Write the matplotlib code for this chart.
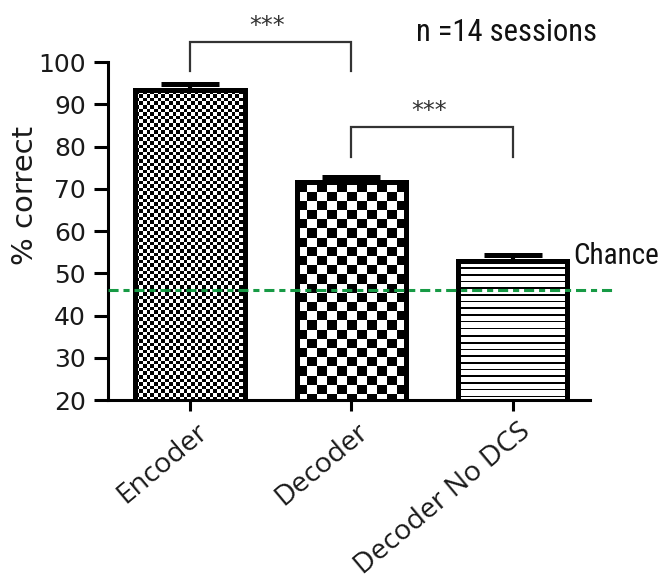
import numpy as np
import matplotlib
matplotlib.use("Agg")
import matplotlib.pyplot as plt
from matplotlib import font_manager

# ---- data ----
categories = ["Encoder", "Decoder", "Decoder No DCS"]
pct_correct = [93.3, 71.5, 52.9]
sem = [1.4, 1.2, 1.5]
chance_level = 46.0
yticks = [20, 30, 40, 50, 60, 70, 80, 90, 100]
comparisons = [(0, 1, "***"), (1, 2, "***")]
n_text = "n =14 sessions"
chance_text = "Chance"

# ---- style ----
installed = {f.name for f in font_manager.fontManager.ttflist}
narrow_pref = ["Liberation Sans Narrow", "Roboto Condensed", "DejaVu Sans Condensed",
               "Open Sans Condensed", "Roboto"]
NARROW = [f for f in narrow_pref if f in installed] + ["DejaVu Sans"]
LABEL_FONT = ["Open Sans", "DejaVu Sans"]
TICK_FONT = ["DejaVu Sans"]
GREEN = "#179a45"

fig = plt.figure(figsize=(6.6, 5.8), dpi=100)
ax = fig.add_axes([0.1636, 0.3103, 0.7303, 0.5828])

x = np.arange(len(categories))
bar_w = 0.68

# error bars (upper only, sitting on the bar top)
ax.errorbar(x, pct_correct, yerr=[np.zeros(len(sem)), sem], fmt="none",
            ecolor="black", elinewidth=3, capsize=21, capthick=3.6, zorder=1)

bars = ax.bar(x, pct_correct, width=bar_w, bottom=0, facecolor="none",
              edgecolor="black", linewidth=3.6, zorder=3)

ax.set_xlim(-0.51, 2.48)
ax.set_ylim(20, 100)

fig.canvas.draw()
bb = ax.get_window_extent()
px_per_x = bb.width / (2.48 + 0.51)
px_per_y = bb.height / (100 - 20)


def pattern(kind, w_px, h_px):
    cols = np.arange(int(round(w_px)))
    rows = np.arange(int(round(h_px)))
    J, I = np.meshgrid(cols, rows)
    if kind == "fine":
        return ((J // 3.7).astype(int) + (I // 3.6).astype(int)) % 2
    if kind == "coarse":
        return ((J // 10.0).astype(int) + (I // 9.2).astype(int)) % 2
    # horizontal stripes
    return ((I % 6.7) >= 1.6).astype(int)


kinds = ["fine", "coarse", "stripes"]
for rect, kind in zip(bars, kinds):
    x0, w = rect.get_x(), rect.get_width()
    y0, y1 = 20, rect.get_height()
    arr = pattern(kind, w * px_per_x, (y1 - y0) * px_per_y)
    im = ax.imshow(arr, extent=[x0, x0 + w, y0, y1], origin="upper",
                   cmap="gray", vmin=0, vmax=1, interpolation="nearest",
                   aspect="auto", zorder=2)
    im.set_clip_path(rect)

ax.set_xlim(-0.51, 2.48)
ax.set_ylim(20, 100)

# chance line
ax.plot([-0.51, 2.62], [chance_level, chance_level], color=GREEN, lw=2.2,
        linestyle=(0, (3.3, 1.6, 2.0, 1.6)), clip_on=False, zorder=4)
ax.text(2.375, chance_level + 8.2, chance_text, fontsize=21, family=NARROW,
        fontstretch="condensed", ha="left", va="center", color="#111111")

# significance brackets
heights = [(104.7, 97.9), (84.6, 77.5)]
for (a, b, label), (top, foot) in zip(comparisons, heights):
    ax.plot([a, a, b, b], [foot, top, top, foot], color="#333333", lw=1.6,
            clip_on=False, zorder=4, solid_joinstyle="miter")
    ax.text((a + b) / 2 - 0.02, top + 1.0, label, fontsize=17, ha="center",
            va="bottom", color="#333333", family=TICK_FONT)

ax.text(1.96, 106.9, n_text, fontsize=22, family=NARROW, fontstretch="condensed",
        ha="center", va="center", color="#111111")

# axes styling
for side in ("top", "right"):
    ax.spines[side].set_visible(False)
for side in ("left", "bottom"):
    ax.spines[side].set_linewidth(2.2)
ax.set_yticks(yticks)
ax.set_yticklabels([str(t) for t in yticks], fontsize=18, family=TICK_FONT,
                   color="#1a1a1a")
ax.tick_params(axis="y", length=10, width=2.2, pad=6)
ax.tick_params(axis="x", length=8, width=2.2, pad=6)
ax.set_xticks(x)
ax.set_xticklabels(categories, rotation=40, ha="right", va="center",
                   rotation_mode="anchor", fontsize=20.5, family=LABEL_FONT,
                   color="#1a1a1a")
for lbl in ax.get_xticklabels():
    lbl.set_transform(lbl.get_transform() +
                      matplotlib.transforms.ScaledTranslation(0.14, -0.09, fig.dpi_scale_trans))

ax.set_ylabel("% correct", fontsize=21, family=TICK_FONT, color="#1a1a1a",
              va="center")
ax.yaxis.set_label_coords(-0.172, 0.606)

fig.savefig("out.png", dpi=100)
